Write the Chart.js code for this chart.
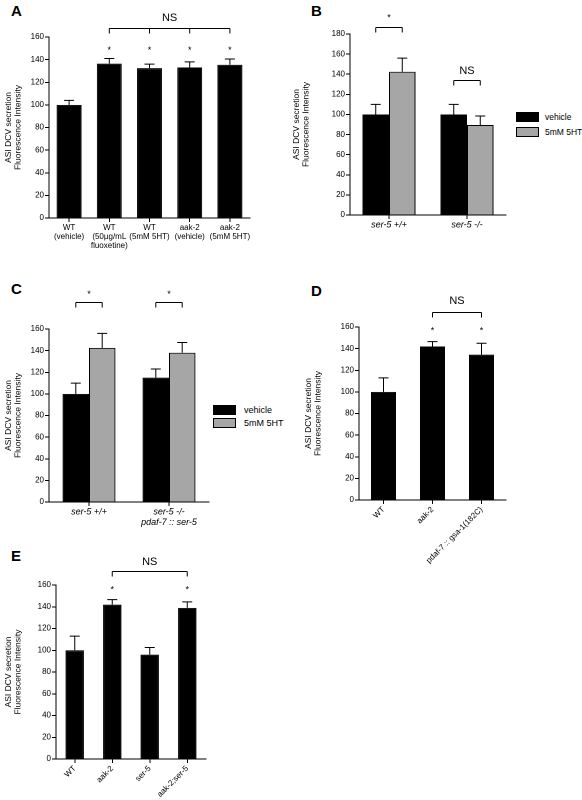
<!DOCTYPE html>
<html><head><meta charset="utf-8">
<script src="https://cdn.jsdelivr.net/npm/chart.js@4"></script>
<style>
body{margin:0;background:#fff;width:582px;height:800px;position:relative;font-family:"Liberation Sans",Arial,sans-serif;overflow:hidden}
canvas{position:absolute}
.L{position:absolute;font-weight:bold;font-size:15px}
.lg{position:absolute;font-size:9px;display:flex;align-items:center;white-space:nowrap}
.lg span{display:inline-block;width:21px;height:8px;border:1px solid #000;margin-right:8px;flex:none}
.lgB{font-size:8.5px}
.lgB span{margin-right:6px}
</style></head><body>
<div class="L" style="left:11px;top:2px">A</div>
<div class="L" style="left:311px;top:2px">B</div>
<div class="L" style="left:11px;top:280px">C</div>
<div class="L" style="left:311px;top:282px">D</div>
<div class="L" style="left:11px;top:547px">E</div>
<div class="lg lgB" style="left:516px;top:112px"><span style="background:#000"></span>vehicle</div>
<div class="lg lgB" style="left:516px;top:127px"><span style="background:#a6a6a6"></span>5mM 5HT</div>
<div class="lg" style="left:213px;top:405px"><span style="background:#000"></span>vehicle</div>
<div class="lg" style="left:213px;top:418px"><span style="background:#a6a6a6"></span>5mM 5HT</div>
<canvas id="cA" width="260" height="290" style="left:0;top:0"></canvas>
<canvas id="cB" width="230" height="260" style="left:290px;top:0"></canvas>
<canvas id="cC" width="220" height="260" style="left:0;top:290px"></canvas>
<canvas id="cD" width="220" height="290" style="left:300px;top:290px"></canvas>
<canvas id="cE" width="220" height="260" style="left:0;top:540px"></canvas>
<script>
// ---- data ----
const catsA = [["WT","(vehicle)"],["WT","(50\u00b5g/mL","fluoxetine)"],["WT","(5mM 5HT)"],["aak-2","(vehicle)"],["aak-2","(5mM 5HT)"]];
const valsA = [100, 136.5, 132.5, 133, 135.5];
const errA  = [4, 4.5, 3.5, 5, 5];

const catsB = ["ser-5 +/+", "ser-5 -/-"];
const vehB = [100, 100], vehErrB = [10, 10];
const htB  = [142.5, 89.5], htErrB = [13.5, 9];

const catsC = ["ser-5 +/+", ["ser-5 -/-","pdaf-7 :: ser-5"]];
const vehC = [100, 115], vehErrC = [10, 8];
const htC  = [142.5, 138], htErrC = [13.5, 9.5];

const catsD = ["WT", "aak-2", "pdaf-7 :: gsa-1(182C)"];
const valsD = [100, 142, 134.5];
const errD  = [13, 4.5, 10.5];

const catsE = ["WT", "aak-2", "ser-5", "aak-2;ser-5"];
const valsE = [100, 142, 96, 139];
const errE  = [13, 4.5, 6.5, 5.5];

const FONT = "'Liberation Sans', Arial, sans-serif";
Chart.defaults.font.family = FONT;
Chart.defaults.color = '#000';
Chart.defaults.devicePixelRatio = 2;

const annoPlugin = {
  id: 'anno',
  afterDatasetsDraw(chart, args, opts) {
    const ctx = chart.ctx, ys = chart.scales.y;
    ctx.save();
    ctx.strokeStyle = '#000'; ctx.fillStyle = '#000'; ctx.lineWidth = 1;
    (opts.errors || []).forEach((errs, d) => {
      const meta = chart.getDatasetMeta(d);
      meta.data.forEach((bar, i) => {
        const v = chart.data.datasets[d].data[i];
        const top = ys.getPixelForValue(v + errs[i]);
        ctx.beginPath();
        ctx.moveTo(bar.x, bar.y); ctx.lineTo(bar.x, top);
        ctx.moveTo(bar.x - 5, top); ctx.lineTo(bar.x + 5, top);
        ctx.stroke();
      });
    });
    ctx.textAlign = 'center'; ctx.textBaseline = 'middle';
    (opts.stars || []).forEach(s => {
      const bar = chart.getDatasetMeta(s[0]).data[s[1]];
      ctx.font = '9px ' + FONT;
      ctx.fillText('*', bar.x, ys.getPixelForValue(s[2]) + 2);
    });
    (opts.brackets || []).forEach(b => {
      const pts = b.pts.map(p => chart.getDatasetMeta(p[0]).data[p[1]].x);
      const y = Math.round(ys.getPixelForValue(b.y)) + 0.5;
      ctx.beginPath();
      ctx.moveTo(pts[0], y); ctx.lineTo(pts[pts.length - 1], y);
      pts.forEach(x => { ctx.moveTo(x, y); ctx.lineTo(x, y + 5); });
      ctx.stroke();
      ctx.font = (b.size || 11) + 'px ' + FONT;
      ctx.fillText(b.label, (pts[0] + pts[pts.length - 1]) / 2, ys.getPixelForValue(b.ly));
    });
    ctx.restore();
  }
};

function make(id, cfg) {
  const c = cfg;
  new Chart(document.getElementById(id), {
    type: 'bar',
    data: { labels: c.labels, datasets: c.datasets },
    plugins: [annoPlugin],
    options: {
      responsive: false, animation: false,
      layout: { padding: c.pad },
      plugins: { legend: { display: false }, tooltip: { enabled: false }, anno: c.anno },
      scales: {
        x: {
          grid: { drawOnChartArea: false, drawTicks: true, tickLength: 4, color: '#000', offset: false },
          border: { color: '#000', width: 1 },
          ticks: { font: { size: c.xfs || 8, style: c.italic ? 'italic' : 'normal', lineHeight: 1.15 },
                   maxRotation: c.rot || 0, minRotation: c.rot || 0, padding: 1, autoSkip: false },
          afterFit: s => { s.height = c.xh; }
        },
        y: {
          min: 0, max: c.max,
          grid: { drawOnChartArea: false, drawTicks: true, tickLength: 4, color: '#000' },
          border: { color: '#000', width: 1 },
          ticks: { stepSize: 20, font: { size: 8 }, padding: 1 },
          title: { display: true, text: ['ASI DCV secretion', 'Fluorescence Intensity'], font: { size: 8.5, lineHeight: 1.1 }, padding: 0 },
          afterFit: s => { s.width = c.yw; }
        }
      }
    }
  });
}
const blk = d => ({ data: d, backgroundColor: '#000', borderColor: '#000', borderWidth: 1 });
const gry = d => ({ data: d, backgroundColor: '#a6a6a6', borderColor: '#000', borderWidth: 1 });

make('cA', {
  labels: catsA, max: 160, yw: 45, xh: 72, pad: { left: 4, top: 37, right: 10, bottom: 0 },
  datasets: [Object.assign(blk(valsA), { categoryPercentage: 0.62, barPercentage: 1 })],
  anno: { errors: [errA], stars: [[0,1,150],[0,2,150],[0,3,150],[0,4,150]],
          brackets: [{ pts: [[0,1],[0,2],[0,3],[0,4]], y: 168, label: 'NS', ly: 177 }] }
});
make('cB', {
  labels: catsB, max: 180, yw: 58, xh: 45, italic: true, xfs: 9, pad: { left: 2, top: 34, right: 14, bottom: 0 },
  datasets: [Object.assign(blk(vehB), { categoryPercentage: 0.68, barPercentage: 1 }),
             Object.assign(gry(htB), { categoryPercentage: 0.68, barPercentage: 1 })],
  anno: { errors: [vehErrB, htErrB], stars: [],
          brackets: [{ pts: [[0,0],[1,0]], y: 187, label: '*', ly: 196, size: 9 },
                     { pts: [[0,1],[1,1]], y: 134, label: 'NS', ly: 143 }] }
});
make('cC', {
  labels: catsC, max: 160, yw: 45, xh: 48, italic: true, xfs: 9, pad: { left: 4, top: 39, right: 11, bottom: 0 },
  datasets: [Object.assign(blk(vehC), { categoryPercentage: 0.66, barPercentage: 1 }),
             Object.assign(gry(htC), { categoryPercentage: 0.66, barPercentage: 1 })],
  anno: { errors: [vehErrC, htErrC], stars: [],
          brackets: [{ pts: [[0,0],[1,0]], y: 185, label: '*', ly: 192, size: 9 },
                     { pts: [[0,1],[1,1]], y: 185, label: '*', ly: 192, size: 9 }] }
});
make('cD', {
  labels: catsD, max: 160, yw: 55, xh: 80, rot: 45, xfs: 8, pad: { left: 4, top: 37, right: 14, bottom: 0 },
  datasets: [Object.assign(blk(valsD), { categoryPercentage: 0.51, barPercentage: 1 })],
  anno: { errors: [errD], stars: [[0,1,158],[0,2,158]],
          brackets: [{ pts: [[0,1],[0,2]], y: 174, label: 'NS', ly: 184 }] }
});
make('cE', {
  labels: catsE, max: 160, yw: 52, xh: 41, rot: 45, xfs: 8, pad: { left: 4, top: 45, right: 14, bottom: 0 },
  datasets: [Object.assign(blk(valsE), { categoryPercentage: 0.49, barPercentage: 1 })],
  anno: { errors: [errE], stars: [[0,1,157],[0,3,157]],
          brackets: [{ pts: [[0,1],[0,3]], y: 173, label: 'NS', ly: 181 }] }
});
</script></body></html>
